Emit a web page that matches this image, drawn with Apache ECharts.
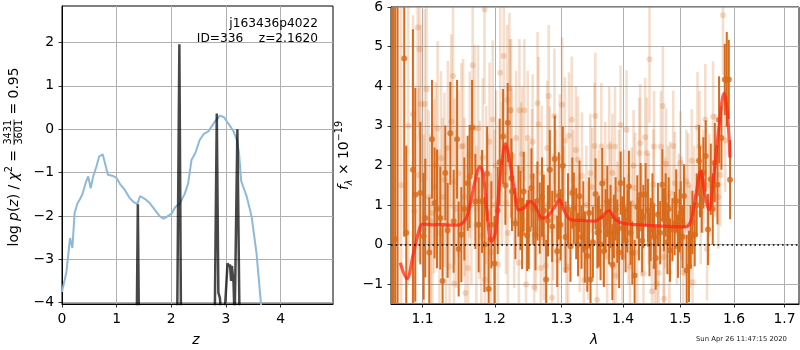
<!DOCTYPE html>
<html>
<head>
<meta charset="utf-8">
<script src="https://cdn.jsdelivr.net/npm/echarts@6/dist/echarts.min.js"></script>
<style>html,body{margin:0;padding:0;background:#fff}#c{width:800px;height:350px}</style>
</head>
<body>
<div id="c"></div>
<script>
// ---------- redshift probability panel ----------
const zTicks = [0, 1, 2, 3, 4];
const logpTicks = [-4, -3, -2, -1, 0, 1, 2];

// log p(z) from the template fit (smooth curve)
const zPrior = [0.00, 0.08, 0.147, 0.19, 0.23, 0.28, 0.33, 0.37, 0.44, 0.48, 0.525, 0.57, 0.63, 0.68, 0.745, 0.78, 0.84, 0.94, 1.00, 1.06,
  1.15, 1.24, 1.31, 1.38, 1.41, 1.43, 1.52, 1.61, 1.70, 1.79, 1.86, 1.93, 2.01, 2.07, 2.16, 2.25, 2.31, 2.37, 2.44, 2.52,
  2.60, 2.68, 2.80, 2.89, 2.96, 3.05, 3.14, 3.20, 3.24, 3.28, 3.38, 3.47, 3.56, 3.64, 3.72];
const logpPrior = [-3.75, -3.30, -2.51, -2.74, -1.94, -1.72, -1.61, -1.51, -1.21, -1.09, -1.36, -1.09, -0.86, -0.63, -0.58, -0.61, -1.05, -1.08, -1.13, -1.26,
  -1.40, -1.59, -1.68, -1.72, -1.73, -1.54, -1.61, -1.71, -1.86, -2.01, -2.06, -2.01, -1.94, -1.80, -1.71, -1.48, -1.24, -0.71, -0.55, -0.25,
  -0.10, -0.05, 0.18, 0.31, 0.28, 0.12, -0.05, -0.25, -0.55, -1.20, -1.55, -2.01, -2.86, -4.00, -5.20];

// log p(z) of the full spectrum fit (narrow peaks)
const zFit = [0, 1.368, 1.388, 1.408, 2.108, 2.148, 2.178, 2.795, 2.833, 2.862, 2.89, 2.925, 2.965, 3.03, 3.055, 3.075, 3.095, 3.11, 3.14, 3.16, 3.162, 3.21, 3.25, 4.96];
const logpFit = [-4.5, -4.5, -1.73, -4.5, -4.5, 1.96, -4.5, -4.5, 0.36, -3.77, -3.89, -4.5, -4.5, -3.09, -3.17, -3.12, -3.5, -3.15, -3.55, -4.5, -4.5, 0.0, -4.5, -4.5];

// ---------- spectrum panel ----------
const lamTicks = [1.1, 1.2, 1.3, 1.4, 1.5, 1.6, 1.7];
const fluxTicks = [-1, 0, 1, 2, 3, 4, 5, 6];

const lamA = [
  1.0603, 1.0621, 1.0644, 1.0674, 1.0760, 1.0786, 1.0873, 1.0904, 1.0970, 1.1013,
  1.1036, 1.1089, 1.1125, 1.1160, 1.1193, 1.1237, 1.1268, 1.1305, 1.1336, 1.1373,
  1.1419, 1.1466, 1.1488, 1.1525, 1.1567, 1.1613, 1.1641, 1.1675, 1.1721, 1.1768,
  1.1816, 1.1849, 1.1888, 1.1910, 1.1949, 1.1993, 1.2040, 1.2069, 1.2119, 1.2152,
  1.2186, 1.2241, 1.2248, 1.2300, 1.2344, 1.2374, 1.2399, 1.2423, 1.2474, 1.2498,
  1.2539, 1.2569, 1.2600, 1.2630, 1.2665, 1.2699, 1.2726, 1.2763, 1.2791, 1.2819,
  1.2856, 1.2896, 1.2934, 1.2959, 1.2985, 1.3021, 1.3064, 1.3103, 1.3142, 1.3171,
  1.3195, 1.3233, 1.3262, 1.3286, 1.3318, 1.3347, 1.3371, 1.3410, 1.3439, 1.3463,
  1.3501, 1.3544, 1.3574, 1.3598, 1.3626, 1.3654, 1.3681, 1.3709, 1.3737, 1.3767,
  1.3791, 1.3821, 1.3846, 1.3875, 1.3903, 1.3934, 1.3959, 1.3987, 1.4018, 1.4043,
  1.4072, 1.4099, 1.4128, 1.4157, 1.4196, 1.4242, 1.4270, 1.4299, 1.4325, 1.4346,
  1.4385, 1.4425, 1.4452, 1.4473, 1.4504, 1.4530, 1.4560, 1.4600, 1.4639, 1.4678,
  1.4706, 1.4736, 1.4767, 1.4790, 1.4813, 1.4856, 1.4897, 1.4924, 1.4956, 1.4987,
  1.5005, 1.5038, 1.5065, 1.5114, 1.5156, 1.5187, 1.5218, 1.5260, 1.5297, 1.5340,
  1.5358, 1.5390, 1.5421, 1.5464, 1.5507, 1.5558, 1.5595, 1.5633, 1.5684, 1.5714,
  1.5759, 1.5822, 1.5860, 1.5899, 1.5923];
const fluxA = [
  -2.5, 8.0, 0.14, -3.0, 4.70, 0.3, 1.89, 1.26, 1.30, 0.21,
  0.67, -0.2, 2.66, 1.05, 0.90, 0.67, -0.92, 1.81, 0.36, 2.81,
  0.59, 2.66, -0.11, 0.25, 0.90, 1.55, 1.72, 2.96, 1.09, 0.5,
  1.09, 0.0, 1.79, -1.12, 0.5, -0.48, 0.86, 2.08, 2.73, 1.5,
  3.08, 1.68, 1.34, 0.53, 1.1, 0.86, 0.28, 1.34, 0.23, 0.38,
  1.43, 0.9, 0.25, 1.1, 0.67, 1.2, 0.86, -0.88, 0.6, 1.89,
  0.46, 2.16, -0.17, 1.23, 0.5, 1.99, 0.19, 0.9, -0.04, 1.3,
  0.92, 0.53, 0.0, 1.22, 0.19, 0.7, -0.06, -0.29, 0.8, -0.88,
  0.06, 1.28, 0.3, 0.34, 0.0, 1.54, -0.17, 0.6, 1.09, 0.3,
  0.71, -0.5, 0.46, 0.9, 0.34, -0.2, 1.55, 0.42, 0.9, 0.1,
  0.6, 1.47, 0.29, -0.21, -0.78, 0.95, 0.4, 1.26, 0.1, 0.71,
  1.26, 0.86, 0.0, 0.38, 1.0, 0.19, -0.34, 0.76, 0.3, 1.51,
  0.63, 1.0, 0.06, 0.9, -0.14, 0.38, 0.53, 1.1, -0.04, 0.6,
  0.80, 0.2, 1.23, -0.65, -0.55, 0.2, 0.56, 0.25, 1.0, 2.12,
  1.59, 1.1, 1.81, 2.24, 0.38, 1.65, 0.9, 2.07, 1.51, 3.15,
  2.69, 4.17, 4.17, 4.17, 1.64];
const errA = [
  9, 10, 7, 9, 4.5, 2.2, 3.55, 2.7, 1.8, 1.6,
  1.5, 1.4, 1.5, 1.4, 1.5, 1.3, 1.4, 1.2, 1.2, 1.3,
  1.3, 1.5, 1.2, 1.2, 1.3, 1.2, 1.3, 1.2, 1.2, 1.2,
  1.3, 1.2, 1.2, 1.3, 1.1, 1.2, 1.1, 1.1, 1.2, 1.0,
  1.0, 1.0, 1.0, 0.9, 0.9, 1.0, 0.9, 1.0, 0.9, 1.0,
  1.0, 0.9, 0.9, 1.0, 0.9, 1.0, 0.9, 1.0, 0.9, 1.0,
  0.9, 1.1, 0.9, 1.1, 0.9, 1.0, 0.9, 0.9, 0.9, 0.9,
  0.9, 0.9, 0.8, 0.9, 0.8, 0.9, 0.9, 0.9, 0.9, 0.9,
  0.9, 0.9, 0.9, 0.9, 0.9, 0.9, 0.9, 0.8, 0.9, 0.8,
  0.8, 0.9, 0.8, 0.8, 0.8, 0.9, 0.8, 0.8, 0.8, 0.8,
  0.8, 0.9, 0.8, 0.8, 0.9, 0.8, 0.8, 0.8, 0.8, 0.8,
  0.8, 0.8, 0.8, 0.8, 0.8, 0.8, 0.8, 0.8, 0.8, 0.9,
  0.8, 0.8, 0.8, 0.8, 0.8, 0.8, 0.8, 0.8, 0.8, 0.8,
  0.8, 0.8, 0.8, 0.9, 0.9, 0.8, 0.8, 0.8, 0.8, 0.9,
  0.9, 0.8, 0.9, 0.9, 0.9, 0.9, 0.9, 1.0, 1.0, 1.1,
  0.8, 0.9, 1.2, 1.0, 1.0];

const lamB = [
  1.0721, 1.0813, 1.0874, 1.0891, 1.0935, 1.0948, 1.0961, 1.0979, 1.1014, 1.1028,
  1.1052, 1.1079, 1.1107, 1.1131, 1.1153, 1.1177, 1.1201, 1.1226, 1.1247, 1.1268,
  1.1293, 1.1317, 1.1340, 1.1363, 1.1386, 1.1410, 1.1424, 1.1432, 1.1456, 1.1484,
  1.1526, 1.1550, 1.1568, 1.1582, 1.1619, 1.1642, 1.1665, 1.1683, 1.1711, 1.1735,
  1.1759, 1.1781, 1.1805, 1.1826, 1.1851, 1.1858, 1.1874, 1.1898, 1.1923, 1.1944,
  1.1968, 1.1993, 1.2015, 1.2044, 1.2078, 1.2103, 1.2128, 1.2162, 1.2177, 1.2187,
  1.2211, 1.2221, 1.2236, 1.2244, 1.2281, 1.2310, 1.2350, 1.2359, 1.2384, 1.2399,
  1.2433, 1.2458, 1.2483, 1.2502, 1.2547, 1.2557, 1.2581, 1.2606, 1.2631, 1.2646,
  1.2680, 1.2694, 1.2724, 1.2761, 1.2779, 1.2802, 1.2820, 1.2853, 1.2872, 1.2891,
  1.2916, 1.2945, 1.2975, 1.3010, 1.3037, 1.3054, 1.3078, 1.3107, 1.3119, 1.3162,
  1.3183, 1.3227, 1.3260, 1.3289, 1.3325, 1.3354, 1.3395, 1.3427, 1.3460, 1.3487,
  1.3529, 1.3541, 1.3568, 1.3597, 1.3638, 1.3670, 1.3703, 1.3735, 1.3768, 1.3792,
  1.3821, 1.3838, 1.3865, 1.3873, 1.3906, 1.3930, 1.3958, 1.3987, 1.4012, 1.4059,
  1.4091, 1.4117, 1.4146, 1.4178, 1.4204, 1.4239, 1.4279, 1.4291, 1.4317, 1.4348,
  1.4378, 1.4408, 1.4439, 1.4453, 1.4495, 1.4523, 1.4531, 1.4544, 1.4582, 1.4610,
  1.4652, 1.4686, 1.4700, 1.4709, 1.4727, 1.4744, 1.4779, 1.4802, 1.4814, 1.4871,
  1.4901, 1.4936, 1.4970, 1.5000, 1.5019, 1.5049, 1.5081, 1.5109, 1.5143, 1.5174,
  1.5206, 1.5221, 1.5250, 1.5311, 1.5349, 1.5371, 1.5418, 1.5456, 1.5488, 1.5531,
  1.5601, 1.5644, 1.5700, 1.5738, 1.5788, 1.5831];
const fluxB = [
  1.5, 3.0, 3.29, 0.84, 5.48, 1.76, 4.93, 3.55, 0.38, 3.55,
  3.92, 1.2, 0.59, 0.80, 1.47, 2.0, 2.94, 0.3, 2.18, 1.2,
  1.64, 0.5, 2.44, -0.55, 3.11, 4.26, -0.98, 1.59, 0.9, 1.8,
  2.48, 2.49, 1.2, -1.22, -0.59, 2.27, 1.0, 4.53, 2.94, 0.5,
  2.94, 1.13, 0.23, 2.2, 5.94, -0.88, 1.5, 0.8, 2.6, -0.2,
  3.16, 1.0, 2.0, -0.5, 4.34, 1.8, 4.76, 1.05, 3.65, 0.29,
  3.95, 3.39, 3.39, 2.24, 0.6, 2.69, -0.46, 3.39, 1.89, 2.29,
  3.39, -1.01, 2.69, 1.0, 1.72, 2.60, -1.07, 0.4, 3.57, 3.04,
  -0.59, 1.81, 0.2, -0.53, 2.44, 3.75, 1.89, -1.34, 0.7, 3.25,
  1.3, -0.4, 2.2, 3.53, 0.9, 2.63, -0.63, -0.55, 2.75, 3.15,
  1.4, 2.39, 2.14, 0.3, 1.74, -0.9, 1.0, 0.1, 1.8, 1.45,
  2.49, 3.25, -1.39, 0.9, 2.48, 0.5, 1.6, -0.3, 2.48, 1.1,
  1.81, -0.55, 2.48, -0.78, 0.6, 1.4, 3.02, -0.3, 1.0, 2.90,
  0.4, -0.55, 1.05, 2.0, 1.43, -0.2, 2.31, 2.56, 0.6, -0.73,
  2.71, 2.31, 0.9, 4.68, -1.18, 1.51, 2.48, -0.55, -0.98, -0.71,
  2.48, 3.50, -0.31, -1.37, 0.80, 2.04, 1.2, -0.70, 1.30, 2.49,
  1.55, 0.3, 1.0, 2.07, 0.92, -0.70, 0.5, 1.6, 1.51, 0.2,
  2.12, -0.95, 1.2, 2.96, 2.48, 0.8, 1.6, 3.16, -0.11, 1.5,
  3.23, 2.0, 1.2, 1.76, 5.79, 2.63];
const errB = [
  5.0, 4.0, 2.5, 2.5, 2.5, 2.2, 2.3, 2.0, 2.4, 2.4,
  2.3, 2.2, 2.2, 2.3, 2.2, 2.1, 2.2, 2.1, 2.2, 2.0,
  2.2, 2.0, 2.2, 2.1, 2.2, 2.3, 2.1, 2.1, 2.0, 2.1,
  2.1, 2.2, 2.0, 2.1, 2.0, 2.1, 2.0, 2.3, 2.1, 2.0,
  2.1, 2.0, 2.0, 2.0, 2.4, 2.0, 2.0, 2.0, 2.0, 2.0,
  2.0, 1.9, 1.9, 1.9, 2.0, 1.8, 2.0, 1.8, 1.9, 1.8,
  1.9, 1.8, 1.8, 1.7, 1.7, 1.7, 1.7, 1.8, 1.7, 1.7,
  1.8, 1.7, 1.7, 1.6, 1.7, 1.7, 1.7, 1.6, 1.8, 1.7,
  1.7, 1.7, 1.6, 1.6, 1.7, 1.8, 1.6, 1.7, 1.6, 1.7,
  1.6, 1.6, 1.6, 1.7, 1.6, 1.6, 1.6, 1.6, 1.6, 1.6,
  1.5, 1.6, 1.6, 1.5, 1.6, 1.6, 1.5, 1.5, 1.5, 1.5,
  1.6, 1.6, 1.6, 1.5, 1.6, 1.5, 1.5, 1.5, 1.5, 1.5,
  1.5, 1.5, 1.5, 1.5, 1.5, 1.5, 1.5, 1.4, 1.4, 1.5,
  1.4, 1.4, 1.4, 1.4, 1.4, 1.4, 1.4, 1.5, 1.4, 1.4,
  1.5, 1.4, 1.4, 1.6, 1.4, 1.4, 1.4, 1.4, 1.4, 1.4,
  1.4, 1.5, 1.4, 1.4, 1.4, 1.4, 1.3, 1.4, 1.3, 1.4,
  1.3, 1.3, 1.3, 1.3, 1.3, 1.3, 1.3, 1.3, 1.3, 1.3,
  1.3, 1.3, 1.3, 1.4, 1.4, 1.3, 1.3, 1.4, 1.3, 1.3,
  1.4, 1.3, 1.3, 1.3, 1.5, 1.3];

// best-fit model spectrum
const lamModel = [1.0708, 1.0795, 1.0881, 1.0970, 1.1013, 1.1125, 1.1237, 1.1373, 1.1466, 1.1581,
  1.1651, 1.1721, 1.1782, 1.1830, 1.1888, 1.1949, 1.2007, 1.2054, 1.2104, 1.2153,
  1.2201, 1.2275, 1.2349, 1.2423, 1.2524, 1.2600, 1.2702, 1.2779, 1.2881, 1.2969,
  1.3037, 1.3143, 1.3329, 1.3517, 1.3654, 1.3763, 1.3875, 1.4031, 1.4530, 1.5095,
  1.5187, 1.5278, 1.5370, 1.5445, 1.5525, 1.5619, 1.5713, 1.5808, 1.5873, 1.5920];
const fluxModel = [-0.46, -0.86, -0.21, 0.46, 0.52, 0.50, 0.51, 0.49, 0.49, 0.63,
  1.05, 1.64, 1.97, 1.81, 0.80, 0.08, 0.29, 1.30, 2.14, 2.55,
  2.25, 1.47, 0.88, 0.92, 1.09, 0.96, 0.67, 0.70, 0.92, 1.13,
  0.88, 0.63, 0.61, 0.59, 0.71, 0.86, 0.63, 0.53, 0.48, 0.45,
  0.59, 1.22, 1.85, 1.30, 0.88, 1.81, 2.98, 3.82, 3.32, 2.20];

// ---------- drawing ----------
const FONT = 'DejaVu Sans';
const FS = 13.9;
const LAM_MIN = 1.059, LAM_MAX = 1.730;
const FLUX_MIN = -1.5, FLUX_MAX = 6;
const ORANGE = '#d76a1c';
const ORANGE_SOFT_BAR = 'rgba(215,106,28,0.22)';
const ORANGE_SOFT_DOT = 'rgba(215,106,28,0.30)';

const minus = v => (v < 0 ? '\u2212' + Math.abs(v) : String(v));

function axisCommon(ticks, fmt) {
  return {
    axisLine: { show: true, onZero: false, lineStyle: { color: '#000', width: 1 } },
    axisTick: { show: true, length: 3.5, customValues: ticks, lineStyle: { color: '#000', width: 0.8 } },
    axisLabel: { customValues: ticks, formatter: fmt, color: '#000', fontFamily: FONT, fontSize: FS, margin: 8 },
    splitLine: { show: true, lineStyle: { color: '#b0b0b0', width: 1 } }
  };
}

function pairs(xs, ys) { return xs.map((x, i) => [x, ys[i]]); }
function bars(xs, ys, es) { return xs.map((x, i) => [x, ys[i] - es[i], ys[i] + es[i]]); }

function errorBar(color, width) {
  return function (params, api) {
    const x = api.value(0);
    const lo = Math.max(api.value(1), FLUX_MIN - 0.3);
    const hi = Math.min(api.value(2), FLUX_MAX + 0.3);
    const p0 = api.coord([x, lo]);
    const p1 = api.coord([x, hi]);
    return {
      type: 'line',
      shape: { x1: p0[0], y1: p0[1], x2: p1[0], y2: p1[1] },
      style: { stroke: color, lineWidth: width }
    };
  };
}

// label layout helpers (text widths for the stacked fraction)
const mctx = document.createElement('canvas').getContext('2d');
function tw(s, size, italic) {
  mctx.font = (italic ? 'italic ' : '') + size + 'px "' + FONT + '"';
  return mctx.measureText(s).width;
}
const SUB = 9.7;
const w1 = tw('log ', FS) + tw('p', FS, true) + tw('(', FS) + tw('z', FS, true) + tw(') / ', FS) +
  tw('\u03c7', FS, true) + tw('2', SUB) + tw(' = ', FS);
const wf = tw('3431', SUB) + 2;
const w3 = tw(' = 0.95', FS);
const wTot = w1 + wf + w3;

const richBase = {
  n: { fontFamily: FONT, fontSize: FS, lineHeight: 20, verticalAlign: 'middle', fill: '#000' },
  i: { fontFamily: FONT, fontSize: FS, fontStyle: 'italic', lineHeight: 20, verticalAlign: 'middle', fill: '#000' },
  sup: { fontFamily: FONT, fontSize: SUB, lineHeight: 11, verticalAlign: 'top', fill: '#000' },
  sub: { fontFamily: FONT, fontSize: SUB, fontStyle: 'italic', lineHeight: 11, verticalAlign: 'bottom', fill: '#000' }
};

const chart = echarts.init(document.getElementById('c'), null, { renderer: 'canvas' });

chart.setOption({
  animation: false,
  backgroundColor: '#fff',
  grid: [
    { left: 62, top: 6, width: 271, height: 298, show: true, borderColor: '#000', borderWidth: 1, backgroundColor: 'transparent' },
    { left: 391, top: 6, width: 408, height: 298, show: true, borderColor: '#000', borderWidth: 1, backgroundColor: 'transparent' }
  ],
  xAxis: [
    Object.assign({ type: 'value', gridIndex: 0, min: 0, max: 4.96 }, axisCommon(zTicks, v => String(v))),
    Object.assign({ type: 'log', logBase: 10, gridIndex: 1, min: LAM_MIN, max: LAM_MAX }, axisCommon(lamTicks, v => (+v).toFixed(1)))
  ],
  yAxis: [
    Object.assign({ type: 'value', gridIndex: 0, min: -4.03, max: 2.84 }, axisCommon(logpTicks, minus)),
    Object.assign({ type: 'value', gridIndex: 1, min: FLUX_MIN, max: FLUX_MAX }, axisCommon(fluxTicks, minus))
  ],
  series: [
    {
      type: 'line', xAxisIndex: 0, yAxisIndex: 0, data: pairs(zPrior, logpPrior),
      showSymbol: false, clip: true, lineStyle: { color: '#8cb9dc', width: 2 }
    },
    {
      type: 'line', xAxisIndex: 0, yAxisIndex: 0, data: pairs(zFit, logpFit),
      showSymbol: false, clip: true, lineStyle: { color: 'rgba(0,0,0,0.72)', width: 2.5 }
    },
    {
      type: 'custom', xAxisIndex: 1, yAxisIndex: 1, clip: true,
      data: bars(lamB, fluxB, errB), encode: { x: 0, y: [1, 2] },
      renderItem: errorBar(ORANGE_SOFT_BAR, 2.6)
    },
    {
      type: 'scatter', xAxisIndex: 1, yAxisIndex: 1, clip: true,
      data: pairs(lamB, fluxB), symbol: 'circle', symbolSize: 6,
      itemStyle: { color: ORANGE_SOFT_DOT }
    },
    {
      type: 'custom', xAxisIndex: 1, yAxisIndex: 1, clip: true,
      data: bars(lamA, fluxA, errA), encode: { x: 0, y: [1, 2] },
      renderItem: errorBar(ORANGE, 2)
    },
    {
      type: 'scatter', xAxisIndex: 1, yAxisIndex: 1, clip: true,
      data: pairs(lamA, fluxA), symbol: 'circle', symbolSize: 6,
      itemStyle: { color: ORANGE }
    },
    {
      type: 'line', xAxisIndex: 1, yAxisIndex: 1, data: pairs(lamModel, fluxModel),
      showSymbol: false, smooth: 0.35, clip: true,
      lineStyle: { color: 'rgba(255,38,20,0.75)', width: 3.2 },
      markLine: {
        silent: true, symbol: 'none', label: { show: false },
        lineStyle: { color: '#000', width: 1.6, type: [1.6, 3] },
        data: [{ yAxis: 0 }]
      }
    }
  ],
  graphic: [
    {
      type: 'text', x: 318, y: 24, z: 100,
      style: { text: 'j163436p4022', fontFamily: FONT, fontSize: 12.2, fill: '#000', align: 'right', verticalAlign: 'middle' }
    },
    {
      type: 'text', x: 318, y: 38.5, z: 100,
      style: { text: 'ID=336    z=2.1620', fontFamily: FONT, fontSize: 12.2, fill: '#000', align: 'right', verticalAlign: 'middle' }
    },
    {
      type: 'text', x: 196, y: 340, z: 100,
      style: { text: 'z', fontFamily: FONT, fontSize: FS, fontStyle: 'italic', fill: '#000', align: 'center', verticalAlign: 'middle' }
    },
    {
      type: 'text', x: 594, y: 340, z: 100,
      style: { text: '\u03bb', fontFamily: FONT, fontSize: FS, fontStyle: 'italic', fill: '#000', align: 'center', verticalAlign: 'middle' }
    },
    {
      type: 'text', x: 787, y: 339.5, z: 100,
      style: { text: 'Sun Apr 26 11:47:15 2020', fontFamily: FONT, fontSize: 6.9, fill: '#222', align: 'right', verticalAlign: 'middle' }
    },
    {
      // right y-axis title, reading bottom to top
      type: 'group', x: 344, y: 155.5, rotation: Math.PI / 2, z: 100,
      children: [{
        type: 'text', x: 0, y: 0,
        style: {
          text: '{i|f}{sub|\u03bb}{n| \u00d7 10}{sup|\u221219}',
          rich: richBase, align: 'center', verticalAlign: 'middle'
        }
      }]
    },
    {
      // left y-axis title with the stacked chi-square fraction
      type: 'group', x: 14, y: 157 + wTot / 2, rotation: Math.PI / 2, z: 100,
      children: [
        {
          type: 'text', x: 0, y: 0,
          style: {
            text: '{n|log }{i|p}{n|(}{i|z}{n|) / }{i|\u03c7}{sup|2}{n| = }',
            rich: richBase, align: 'left', verticalAlign: 'middle'
          }
        },
        {
          type: 'text', x: w1 + wf / 2, y: -5.6,
          style: { text: '3431', fontFamily: FONT, fontSize: SUB, fill: '#000', align: 'center', verticalAlign: 'middle' }
        },
        {
          type: 'line', shape: { x1: w1 + 0.5, y1: 0, x2: w1 + wf - 0.5, y2: 0 },
          style: { stroke: '#000', lineWidth: 0.8 }
        },
        {
          type: 'text', x: w1 + wf / 2, y: 5.8,
          style: { text: '3601', fontFamily: FONT, fontSize: SUB, fill: '#000', align: 'center', verticalAlign: 'middle' }
        },
        {
          type: 'text', x: w1 + wf, y: 0,
          style: { text: ' = 0.95', fontFamily: FONT, fontSize: FS, fill: '#000', align: 'left', verticalAlign: 'middle' }
        }
      ]
    }
  ]
});
</script>
</body>
</html>
